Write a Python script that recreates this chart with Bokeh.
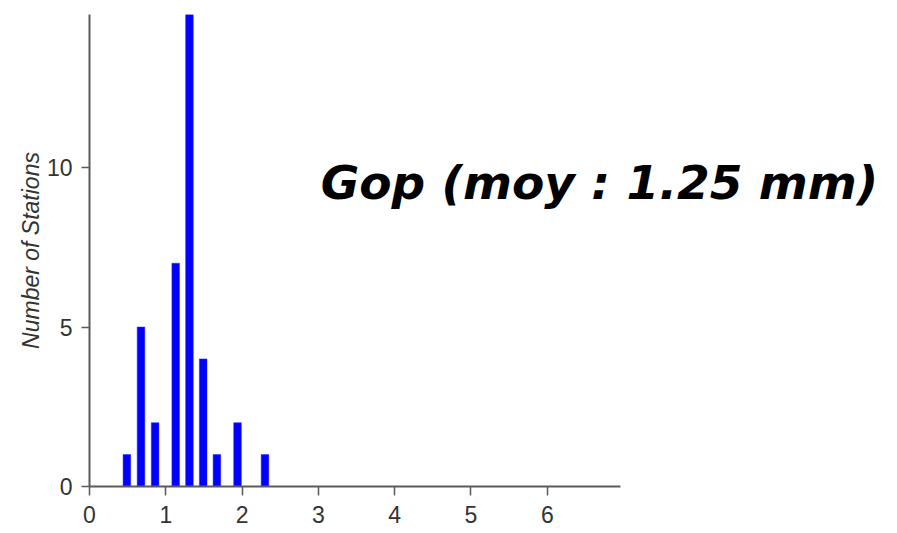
import numpy as np
from bokeh.plotting import figure
from bokeh.models import Range1d, Label, FixedTicker
from bokeh.embed import file_html
from bokeh.resources import INLINE

# Histogram of station values (bin centres in mm, number of stations)
bin_centers = [0.49, 0.675, 0.86, 1.13, 1.31, 1.49, 1.67, 1.94, 2.30]
station_counts = [1, 5, 2, 7, 15, 4, 1, 2, 1]
x_ticks = [0, 1, 2, 3, 4, 5, 6]
y_ticks = [0, 5, 10, 15]
title_text = "Gop (moy : 1.25 mm)"
y_label = "Number of Stations"

# the frame runs across the whole page so the caption is not clipped;
# the x axis itself is bounded to the histogram's extent
p = figure(
    width=897, height=533,
    output_backend="svg", toolbar_location=None,
    x_range=Range1d(0, 10.59), y_range=Range1d(0, 14.8),
    min_border_left=89, min_border_right=0,
    min_border_top=14, min_border_bottom=47,
)
p.outline_line_color = None
p.grid.visible = False
p.background_fill_color = "white"
p.border_fill_color = "white"

p.vbar(x=bin_centers, top=station_counts, width=0.1, bottom=0,
       fill_color="#0000ff", line_color="#2a2aff", line_width=0.5)

axis_color = "#5a5a5a"
for ax in (p.xaxis[0], p.yaxis[0]):
    ax.axis_line_color = axis_color
    ax.axis_line_width = 2
    ax.major_tick_line_color = axis_color
    ax.major_tick_line_width = 1.5
    ax.major_tick_in = 0
    ax.minor_tick_line_color = None
    ax.major_label_text_font = "Liberation Sans"
    ax.major_label_text_font_size = "23px"
    ax.major_label_text_color = "#333333"

p.xaxis.bounds = (0, 6.96)
p.xaxis.ticker = FixedTicker(ticks=x_ticks)
p.yaxis.ticker = FixedTicker(ticks=y_ticks)
p.xaxis.major_tick_out = 9
p.yaxis.major_tick_out = 8
p.xaxis.major_label_standoff = 10
p.yaxis.major_label_standoff = 9

p.yaxis.axis_label = y_label
p.yaxis.axis_label_text_font = "Liberation Sans"
p.yaxis.axis_label_text_font_style = "italic"
p.yaxis.axis_label_text_font_size = "23px"
p.yaxis.axis_label_text_color = "#333333"
p.yaxis.axis_label_standoff = 0

title = Label(
    x=3.03, y=9.53, text=title_text,
    text_font="DejaVu Sans", text_font_style="bold italic",
    text_font_size="47px", text_color="black",
    text_baseline="alphabetic", text_align="left",
)
p.add_layout(title)

open("out.html", "w").write(file_html(p, INLINE))
